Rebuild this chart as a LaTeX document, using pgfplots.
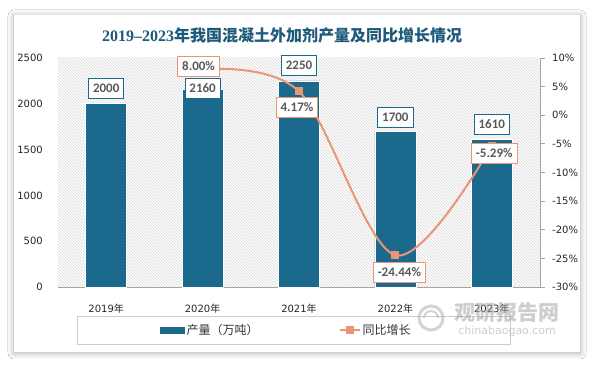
\documentclass[border=0pt]{standalone}
\usepackage{fontspec}
\setmainfont{DejaVu Sans}
\newfontfamily\cjk{Noto Sans CJK SC}
\newfontfamily\lblfont{Carlito}
\newfontfamily\serif{Liberation Serif}
\usepackage{pgfplots}
\pgfplotsset{compat=1.18}
\usetikzlibrary{patterns,shadows.blur}
\definecolor{barblue}{RGB}{27,106,141}
\definecolor{lineor}{RGB}{234,150,118}
\definecolor{titleblue}{RGB}{30,90,122}
\definecolor{lbltext}{RGB}{89,89,89}
\definecolor{axgray}{RGB}{165,165,165}
\begin{document}
\begin{tikzpicture}
\path[use as bounding box] (0,0) rectangle (594pt,366pt);
\fill[white] (0,0) rectangle (594pt,366pt);
\fill[white, blur shadow={shadow xshift=0pt,shadow yshift=-1pt,shadow blur radius=6pt,shadow opacity=35}] (14pt,14pt) rectangle (580pt,351pt);

\begin{axis}[
  at={(58pt,79pt)}, anchor=south west, scale only axis, width=482pt, height=229pt,
  xmin=-0.5, xmax=4.5, ymin=0, ymax=2500, ytick={0,500,...,2500},
  xtick={0,1,2,3,4},
  xticklabels={2019{\cjk 年},2020{\cjk 年},2021{\cjk 年},2022{\cjk 年},2023{\cjk 年}},
  axis x line*=bottom, axis y line*=left,
  y axis line style={draw=none}, x axis line style={axgray, line width=0.8pt},
  major tick style={draw=none},
  ybar, bar width=41pt,
  axis background/.style={pattern=north west lines, pattern color=black!16},
  tick label style={font=\fontsize{10}{12}\selectfont, text=black!85},
  yticklabel style={anchor=east, inner sep=0pt, xshift=-15pt},
  xticklabel style={anchor=center, inner sep=0pt, yshift=-17pt},
  /pgf/number format/assume math mode=true, /pgf/number format/1000 sep={},
  clip=false,
  legend columns=2,
  legend style={draw=none, fill=none, at={(axis description cs:0.205,-0.188)}, anchor=west,
    font=\cjk\fontsize{12}{14}\selectfont, text=black!80},
  legend cell align=left,
]
\addplot[fill=barblue, draw=white, line width=0.6pt,
  legend image code/.code={\fill[barblue] (0pt,-3pt) rectangle (24pt,3pt);},
  nodes near coords,
  visualization depends on={\thisrow{dy}\as\dy},
  every node near coord/.append style={anchor=center, yshift=\dy pt, draw=barblue, line width=0.8pt,
    fill=white, text=lbltext, font=\lblfont\bfseries\fontsize{13}{15}\selectfont,
    inner xsep=4.5pt, minimum height=20pt},
] table {
x y dy
0 2000 15.5
1 2160 1
2 2250 15.5
3 1700 14
4 1610 15.5
};
\addlegendentry{\makebox[150pt][l]{产量（万吨）}}
\addlegendimage{legend image code/.code={\draw[lineor,line width=2pt] (0pt,0pt) -- (20pt,0pt); \fill[lineor] (6.5pt,-3.5pt) rectangle (13.5pt,3.5pt);}}
\addlegendentry{同比增长}
\end{axis}

\begin{axis}[
  at={(58pt,79pt)}, anchor=south west, scale only axis, width=482pt, height=229pt,
  xmin=-0.5, xmax=4.5, ymin=-30, ymax=10, ytick={-30,-25,...,10},
  axis x line=none, axis y line*=right, xtick=\empty,
  y axis line style={axgray, line width=0.8pt},
  ytick style={axgray, line width=0.8pt},
  tick align=outside, major tick length=5pt,
  yticklabel={\pgfmathprintnumber{\tick}\%},
  tick label style={font=\fontsize{10}{12}\selectfont, text=black!85},
  yticklabel style={anchor=west, inner sep=0pt, xshift=7pt},
  /pgf/number format/assume math mode=true,
  clip=false,
]
\addplot[lineor, line width=2pt, smooth, tension=0.55, mark=square*, mark size=3.5pt,
  mark options={fill=lineor, draw=lineor, line width=0pt},
  nodes near coords={\pgfmathprintnumber[fixed,fixed zerofill,precision=2]{\pgfplotspointmeta}\%},
  visualization depends on={\thisrow{dx}\as\dx},
  visualization depends on={\thisrow{dy}\as\dy},
  every node near coord/.append style={anchor=center, xshift=\dx pt, yshift=\dy pt, draw=lineor,
    line width=0.8pt, fill=white, text=lbltext, font=\lblfont\bfseries\fontsize{13}{15}\selectfont,
    inner xsep=4.5pt, minimum height=20pt},
] table {
x y dx dy
1 8.00 -4 3.5
2 4.17 -2 -16
3 -24.44 4 -17
4 -5.29 2.5 -7.5
};
\end{axis}

\draw[black!20, line width=0.7pt] (77pt,22pt) rectangle (510pt,50pt);

\node[text=titleblue, font=\bfseries\fontsize{16}{18}\selectfont] at (282pt,331pt)
  {{\serif 2019–2023}{\cjk 年我国混凝土外加剂产量及同比增长情况}};

\begin{scope}[opacity=0.55]
\draw[gray!60, line width=3pt] (431pt,48pt) circle (12pt);
\draw[gray!60, line width=2pt] (424pt,48pt) arc (180:0:7pt);
\node[text=gray!70, font=\cjk\bfseries\fontsize{21}{21}\selectfont] at (507pt,53pt) {观研报告网};
\node[text=gray!70, font=\fontsize{11}{11}\selectfont] at (507pt,35pt) {chinabaogao.com};
\end{scope}
\end{tikzpicture}
\end{document}
